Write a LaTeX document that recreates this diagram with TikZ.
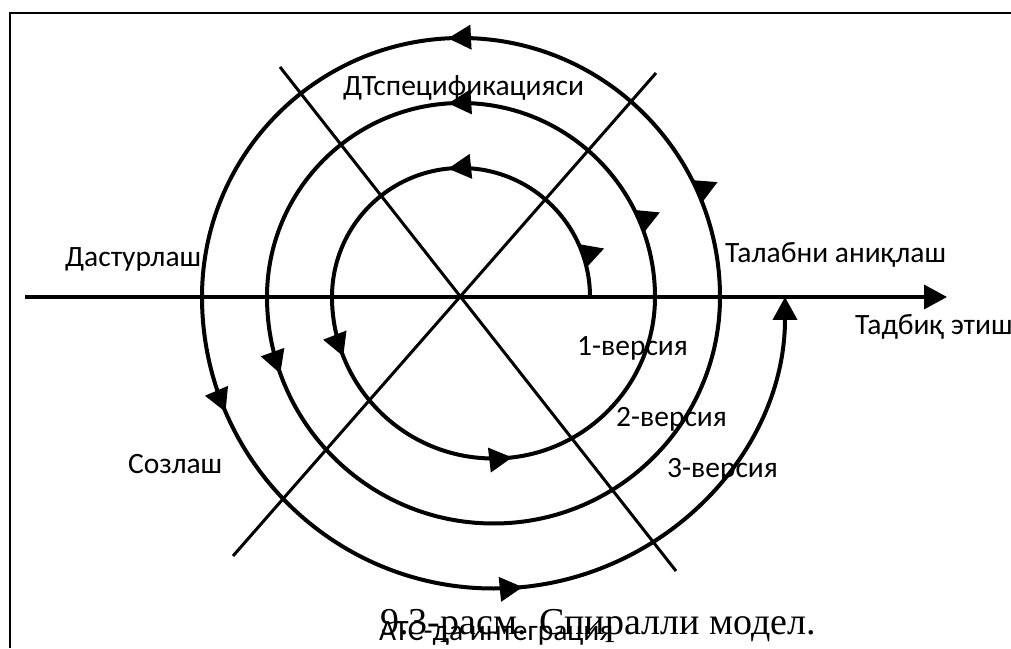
\documentclass[tikz,border=0pt]{standalone}
\usepackage{fontspec}
\setmainfont{Carlito}
\newfontfamily\captionserif{Liberation Serif}
\usetikzlibrary{arrows.meta,decorations.markings}

\begin{document}
\begin{tikzpicture}[x=1pt,y=1pt,
			>={Triangle[length=23pt,width=24pt]},
			spiral/.style={line width=4pt},
			tipat/.style={postaction={decorate,decoration={markings,
				mark=at position #1 with {\arrow{>}}}}},
			sideat/.style={postaction={decorate,decoration={markings,
				mark=at position #1 with {\fill (-12pt,0pt)--(12pt,0pt)--(0pt,-22pt)--cycle;}}}},
			phase/.style={inner sep=0pt,anchor=base west,
				font=\fontsize{29.5}{35}\selectfont}]
			
			\useasboundingbox (0,0) rectangle (1011,648);
			
			\draw[line width=2pt](9.5,0)--(9.5,635)--(1011,635);
			
			\draw[line width=3.5pt,->](25,351)--(947,351);
			
			\draw[line width=3pt](280,581)--(676,77);
			
			\draw[line width=3pt](656,575)--(233,92);
			
			\draw[spiral,sideat=0.104,tipat=0.532](590,351) arc[start angle=0,end angle=180,radius=129pt];
			
			\draw[spiral,tipat=0.12,tipat=0.537](332,351) arc[start angle=180,end angle=360,radius=161.5pt];
			
			\draw[spiral,sideat=0.128,tipat=0.521](655,351) arc[start angle=0,end angle=180,radius=194pt];
			
			\draw[spiral,tipat=0.11](267,351) arc[start angle=180,end angle=360,radius=226.5pt];
			
			\draw[spiral,sideat=0.134,tipat=0.516](720,351) arc[start angle=0,end angle=180,radius=259pt];
			
			\draw[spiral,tipat=0.129,tipat=0.532,->](202,351) arc[start angle=180,end angle=360,radius=291.5pt];
			
			\node(spec)[phase] at (343,552){ДТспецификацияси};
			
			\node(prog)[phase] at (65,381){Дастурлаш};
			
			\node(req)[phase] at (725,385){Талабни аниқлаш};
			
			\node(impl)[phase] at (855,313){Тадбиқ этиш};
			
			\node(v1)[phase] at (577,292){1-версия};
			
			\node(v2)[phase] at (616,221){2-версия};
			
			\node(v3)[phase] at (667,171){3-версия};
			
			\node(build)[phase] at (128,175){Созлаш};
			
			\node(integ)[phase] at (379,8){АТС-да интеграция};
			
			\node(caption)[inner sep=0pt,anchor=base west,
				font=\captionserif\fontsize{38}{44}\selectfont] at (380,14){9.3-расм. Спиралли модел.};
			
		\end{tikzpicture}
\end{document}
